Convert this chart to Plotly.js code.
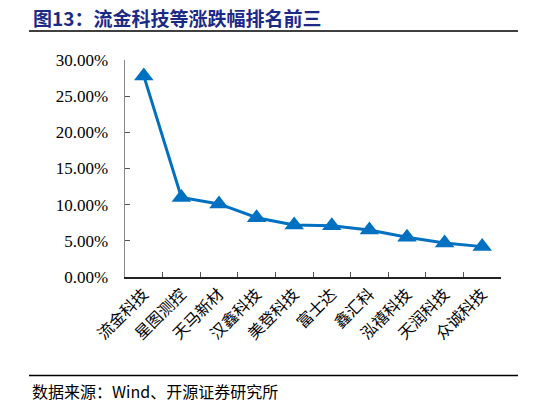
<!DOCTYPE html>
<html><head><meta charset="utf-8">
<script src="https://cdn.plot.ly/plotly-3.0.1.min.js"></script>
<style>html,body{margin:0;padding:0;background:#fff;}#c{width:546px;height:405px;}</style>
</head><body><div id="c"></div>
<script>
var categories = ['流金科技','星图测控','天马新材','汉鑫科技','美登科技','富士达','鑫汇科','泓禧科技','天润科技','众诚科技'];
var values = [0.278, 0.110, 0.101, 0.082, 0.072, 0.071, 0.065, 0.055, 0.047, 0.042];
var yTicks = [0, 0.05, 0.10, 0.15, 0.20, 0.25, 0.30];
var yTickText = ['0.00%','5.00%','10.00%','15.00%','20.00%','25.00%','30.00%'];
var titleText = '图13：流金科技等涨跌幅排名前三';
var sourceText = '数据来源：Wind、开源证券研究所';

var L=125, R=45, T=60, B=128, W=546-L-R, H=405-T-B;
function px(x){return (x-L)/W;}
function py(y){return (405-B-y)/H;}

var trace = {
  x: categories, y: values, type:'scatter', mode:'lines+markers',
  line:{color:'#0070C0', width:3},
  marker:{symbol:'triangle-up', size:17, color:'#0070C0'},
  hoverinfo:'skip'
};
var layout = {
  width:546, height:405,
  margin:{l:L, r:R, t:T, b:B, pad:0},
  paper_bgcolor:'#fff', plot_bgcolor:'#fff',
  showlegend:false,
  xaxis:{
    type:'category', range:[-0.5, 9.5], tickson:'boundaries',
    ticks:'inside', ticklen:5, tickcolor:'#555', tickwidth:1,
    showline:true, linecolor:'#222', linewidth:1.5, showgrid:false, zeroline:false,
    tickangle:-45, tickfont:{family:'Noto Sans CJK SC', size:16, color:'#000'}, fixedrange:true
  },
  yaxis:{
    range:[0,0.30], tickvals:yTicks, ticktext:yTickText,
    ticks:'inside', ticklen:5, tickcolor:'#555', tickwidth:1,
    showline:true, linecolor:'#888', linewidth:1.5, showgrid:false, zeroline:false,
    tickfont:{family:'Liberation Serif', size:17, color:'#000'}, ticklabelstandoff:12, fixedrange:true
  },
  shapes:[
    {type:'line', xref:'paper', yref:'paper', x0:px(29), x1:px(518), y0:py(31), y1:py(31), line:{color:'#000', width:1.5}},
    {type:'line', xref:'paper', yref:'paper', x0:px(29), x1:px(518), y0:py(375.5), y1:py(375.5), line:{color:'#000', width:1.5}}
  ],
  annotations:[
    {text:'<b>'+titleText+'</b>', xref:'paper', yref:'paper', x:px(31), y:py(17), xanchor:'left', yanchor:'middle', showarrow:false,
     font:{family:'Noto Sans CJK SC', size:19, color:'#1B2A87'}},
    {text:sourceText, xref:'paper', yref:'paper', x:px(30), y:py(391), xanchor:'left', yanchor:'middle', showarrow:false,
     font:{family:'Noto Sans CJK SC', size:16, color:'#000'}}
  ]
};
Plotly.newPlot('c', [trace], layout, {displayModeBar:false, staticPlot:true});
</script></body></html>
